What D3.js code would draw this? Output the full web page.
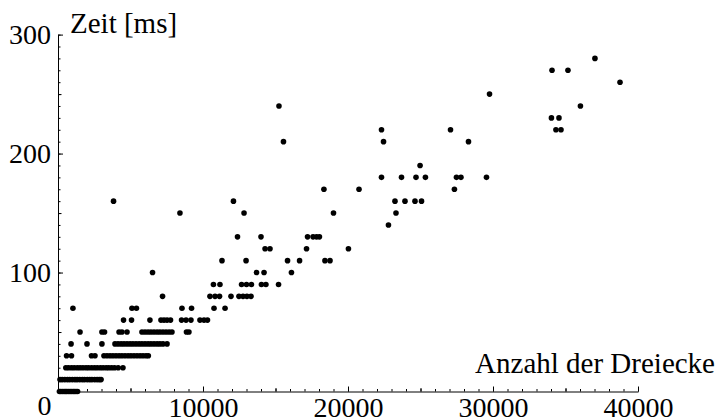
<!DOCTYPE html>
<html>
<head>
<meta charset="utf-8">
<script src="https://cdn.jsdelivr.net/npm/d3@7"></script>
<style>
  body { margin: 0; background: #fff; }
  svg { display: block; }
</style>
</head>
<body>
<svg width="723" height="420"></svg>
<script>
// tick labels and axis titles
var xTicks = [10000, 20000, 30000, 40000];
var yTicks = [100, 200, 300];
var xTitle = "Anzahl der Dreiecke";
var yTitle = "Zeit [ms]";

// measurements: [Anzahl der Dreiecke, Zeit in ms], grouped by time
var messungen = [
  // 0 ms
  [100,0],[200,0],[310,0],[420,0],[520,0],[610,0],[720,0],[830,0],[930,0],[1040,0],[1130,0],[1240,0],[1350,0],
  // 10 ms
  [140,10],[290,10],[470,10],[650,10],[810,10],[990,10],[1170,10],[1320,10],[1500,10],[1680,10],[1830,10],
  [2020,10],[2190,10],[2340,10],[2530,10],[2700,10],[2850,10],[2970,10],
  // 20 ms
  [540,20],[720,20],[930,20],[1120,20],[1330,20],[1520,20],[1720,20],[1930,20],[2110,20],[2320,20],[2520,20],
  [2710,20],[2920,20],[3110,20],[3320,20],[3500,20],[3700,20],[3900,20],[4150,20],[4480,20],
  // 30 ms
  [590,30],[930,30],[2310,30],[2550,30],[3170,30],[3380,30],[3590,30],[3790,30],[4000,30],[4210,30],[4410,30],
  [4620,30],[4830,30],[5030,30],[5240,30],[5450,30],[5660,30],[5860,30],[6070,30],[6230,30],
  // 40 ms
  [900,40],[2000,40],[3030,40],[3930,40],[4140,40],[4350,40],[4550,40],[4760,40],[4970,40],[5170,40],[5380,40],
  [5590,40],[5790,40],[6000,40],[6210,40],[6410,40],[6620,40],[6830,40],[7030,40],[7240,40],[7520,40],
  // 50 ms
  [1520,50],[3030,50],[3210,50],[4210,50],[4410,50],[4760,50],[5790,50],[6000,50],[6210,50],[6410,50],[6620,50],
  [6830,50],[7030,50],[7240,50],[7450,50],[7660,50],[7860,50],[8860,50],[9030,50],
  // 60 ms
  [4520,60],[5070,60],[6340,60],[7100,60],[7310,60],[7520,60],[7760,60],[8520,60],[8830,60],[9170,60],
  [9790,60],[10070,60],[10310,60],
  // 70 ms
  [1030,70],[5100,70],[5410,70],[8550,70],[9210,70],[10760,70],[11520,70],
  // 80 ms
  [7210,80],[10480,80],[10830,80],[11140,80],[11930,80],[12480,80],[12760,80],[13030,80],[13310,80],
  // 90 ms
  [10720,90],[11170,90],[12660,90],[13000,90],[13340,90],[14030,90],[14340,90],[15210,90],
  // 100 ms
  [6520,100],[13690,100],[14210,100],[16100,100],
  // 110 ms
  [11310,110],[12970,110],[15830,110],[16660,110],[18410,110],[18760,110],
  // 120 ms
  [14280,120],[14620,120],[17140,120],[20030,120],
  // 130 ms
  [12380,130],[14000,130],[17210,130],[17590,130],[17830,130],[18030,130],
  // 140 ms
  [22790,140],
  // 150 ms
  [8410,150],[12830,150],[19000,150],[23310,150],
  // 160 ms
  [3830,160],[12100,160],[23240,160],[23930,160],[24620,160],[25070,160],
  // 170 ms
  [18340,170],[20760,170],[27340,170],
  // 180 ms
  [22310,180],[23690,180],[24690,180],[25340,180],[27480,180],[27790,180],[29550,180],
  // 190 ms
  [24970,190],
  // 210 ms
  [15550,210],[22450,210],[28310,210],
  // 220 ms
  [22310,220],[27070,220],[34340,220],[34690,220],
  // 230 ms
  [34030,230],[34550,230],
  // 240 ms
  [15240,240],[36030,240],
  // 250 ms
  [29760,250],
  // 260 ms
  [38760,260],
  // 270 ms
  [34070,270],[35170,270],
  // 280 ms
  [37030,280]
];

function main() {
    var svg = d3.select("svg");
    var font = "'Liberation Serif', 'Times New Roman', serif";

    var x = d3.scaleLinear()
        .domain([0, 40000])
        .range([58, 638]);
    var y = d3.scaleLinear()
        .domain([0, 300])
        .range([391.5, 34.6]);

    // minor ticks first (no labels)
    svg.append("g")
        .attr("transform", "translate(0," + y(0) + ")")
        .call(d3.axisBottom(x).tickValues(d3.range(0, 40001, 1000)).tickSize(-2.5).tickFormat(""))
        .call(g => g.select(".domain").remove());
    svg.append("g")
        .attr("transform", "translate(0," + y(0) + ")")
        .call(d3.axisBottom(x).tickValues(d3.range(5000, 40001, 10000)).tickSize(-3.5).tickFormat(""))
        .call(g => g.select(".domain").remove());
    svg.append("g")
        .attr("transform", "translate(" + x(0) + ",0)")
        .call(d3.axisLeft(y).tickValues(d3.range(0, 301, 10)).tickSize(-2.5).tickFormat(""))
        .call(g => g.select(".domain").remove());
    svg.append("g")
        .attr("transform", "translate(" + x(0) + ",0)")
        .call(d3.axisLeft(y).tickValues(d3.range(50, 300, 100)).tickSize(-3.5).tickFormat(""))
        .call(g => g.select(".domain").remove());

    // major ticks with labels
    var xAxis = svg.append("g")
        .attr("transform", "translate(0," + y(0) + ")")
        .call(d3.axisBottom(x).tickValues(xTicks).tickSizeInner(-5).tickSizeOuter(0).tickPadding(5.6).tickFormat(d3.format("d")));
    var yAxis = svg.append("g")
        .attr("transform", "translate(" + x(0) + ",0)")
        .call(d3.axisLeft(y).tickValues(yTicks).tickSizeInner(-5).tickSizeOuter(0).tickPadding(7).tickFormat(d3.format("d")));

    [xAxis, yAxis].forEach(function(g) {
        g.attr("font-family", font).attr("font-size", 28);
        g.selectAll("text").attr("fill", "#000");
    });
    svg.selectAll(".tick line").attr("stroke", "#000").attr("stroke-width", 1);
    svg.selectAll(".domain").attr("stroke", "#000").attr("stroke-width", 1);

    // origin label
    svg.append("text")
        .attr("x", 51.5)
        .attr("y", 415)
        .attr("text-anchor", "end")
        .attr("font-family", font)
        .attr("font-size", 28)
        .text("0");

    // axis titles
    svg.append("text")
        .attr("x", 70)
        .attr("y", 33)
        .attr("font-family", font)
        .attr("font-size", 29)
        .text(yTitle);
    svg.append("text")
        .attr("x", 715)
        .attr("y", 373)
        .attr("text-anchor", "end")
        .attr("font-family", font)
        .attr("font-size", 29)
        .text(xTitle);

    // points
    svg.append("g")
        .selectAll("circle")
        .data(messungen)
        .enter().append("circle")
        .attr("cx", d => x(d[0]))
        .attr("cy", d => y(d[1]))
        .attr("r", 2.8)
        .attr("fill", "#000");
}
main();
</script>
</body>
</html>
